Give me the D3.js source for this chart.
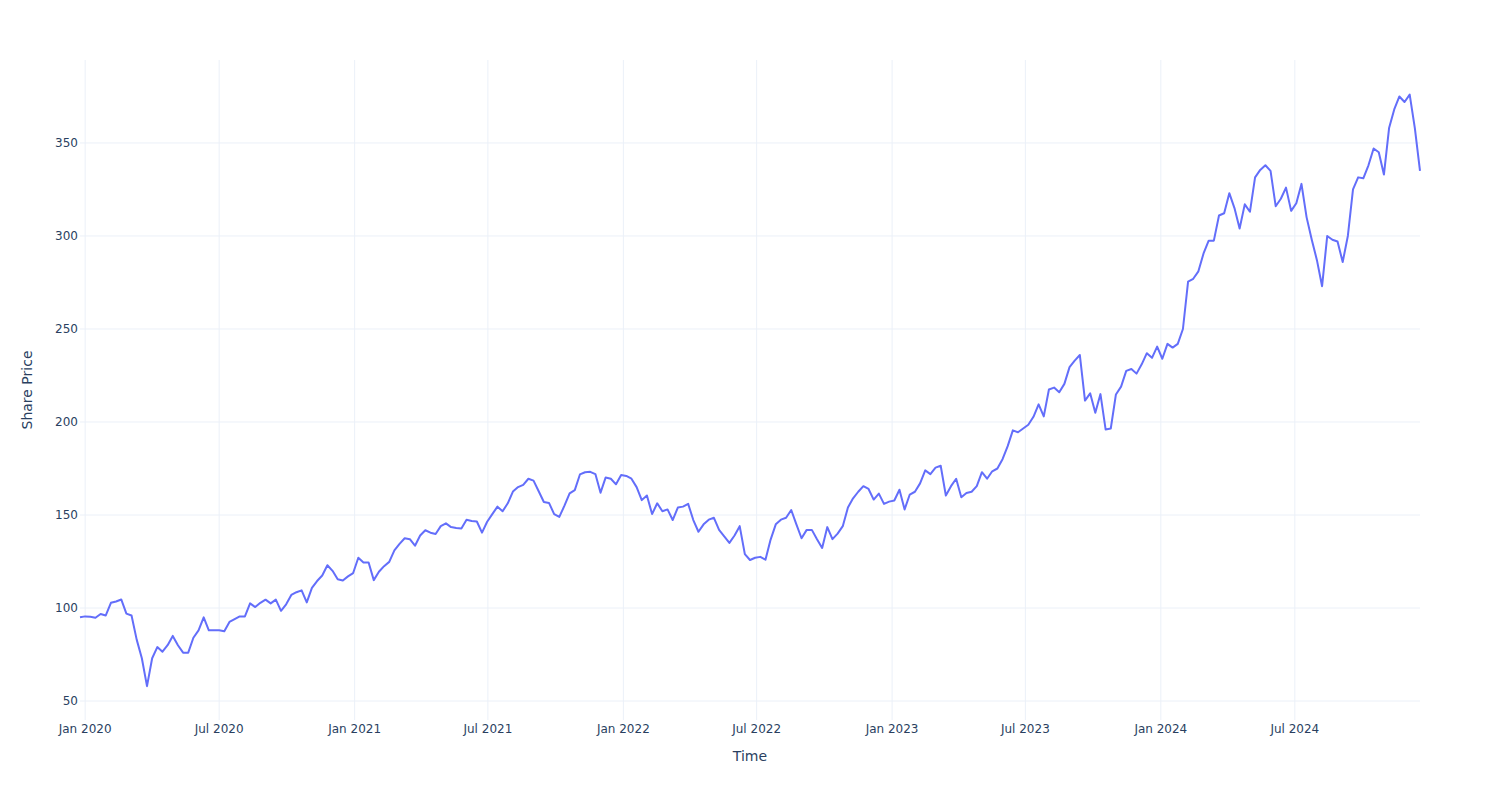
<!DOCTYPE html>
<html>
<head>
<meta charset="utf-8">
<script src="https://cdn.jsdelivr.net/npm/d3@7"></script>
<style>
  html, body { margin: 0; padding: 0; background: #fff; }
  svg { display: block; font-family: "DejaVu Sans", Verdana, sans-serif; }
</style>
</head>
<body>
<svg id="chart" width="1500" height="800"></svg>
<script>
// ---- data (weekly closes) ----
const startDate = "2019-12-25";
const stepDays = 7;
const prices = [
  95.0, 95.5, 95.3, 94.8, 96.8, 96.0, 102.8, 103.5, 104.6, 97,
  96, 83, 73, 58, 73, 79, 76.5, 80, 85, 80,
  76, 76, 84, 88, 95, 88, 88, 88, 87.5, 92.5,
  94, 95.5, 95.5, 102.5, 100.5, 102.8, 104.5, 102.5, 104.5, 98.5,
  102, 107, 108.5, 109.5, 103, 110.8, 114.5, 117.5, 123, 120,
  115.5, 114.8, 117, 118.8, 127, 124.5, 124.5, 115, 119.5, 122.5,
  124.8, 131, 134.5, 137.5, 137, 133.5, 139, 141.8, 140.5, 139.8,
  144, 145.5, 143.5, 143, 142.8, 147.5, 146.8, 146.5, 140.5, 146.4,
  150.5, 154.5, 152, 156.3, 162.6, 165, 166.2, 169.5, 168.5, 162.8,
  157, 156.5, 150.5, 149, 155, 161.6, 163.4, 171.8, 173, 173.2,
  172, 162, 170.2, 169.5, 166.5, 171.5, 171, 169.5, 165, 158,
  160.5, 150.5, 156.3, 152, 153, 147.3, 154, 154.5, 156, 147.3,
  141, 145, 147.5, 148.5, 142, 138.5, 135, 139, 144, 129,
  125.8, 127, 127.5, 126, 136.8, 145, 147.5, 148.5, 152.7, 145,
  137.5, 142, 142, 137, 132.3, 143.5, 137, 140, 144, 154,
  159, 162.5, 165.5, 164, 158.3, 161.5, 156, 157.2, 157.8, 163.6,
  153, 161, 162.5, 167, 174, 172, 175.5, 176.5, 160.5, 165.5,
  169.5, 159.5, 161.8, 162.5, 165.5, 173, 169.5, 173.5, 175, 180,
  187, 195.5, 194.5, 196.5, 198.5, 202.8, 209.5, 203, 217.5, 218.5,
  216, 220.5, 229.5, 233, 236, 211.5, 215.4, 205, 215, 196,
  196.5, 214.8, 219, 227.5, 228.5, 226, 231, 237, 234.5, 240.5,
  234, 242, 240, 242, 250, 275.5, 277, 281, 290.6, 297.5,
  297.5, 311, 312.2, 323, 315, 304, 317, 313, 331.5, 335.5,
  338, 335, 316, 320, 326, 313.5, 317.6, 328, 310, 298,
  287, 273, 300, 298, 297, 286, 300, 325, 331.5, 331,
  338, 347, 345, 333, 358, 368, 375, 372, 376, 358,
  335
];
const yTicks = [50, 100, 150, 200, 250, 300, 350];
const xTickDates = ["2020-01-01", "2020-07-01", "2021-01-01", "2021-07-01", "2022-01-01",
                    "2022-07-01", "2023-01-01", "2023-07-01", "2024-01-01", "2024-07-01"];
const xTickLabels = ["Jan 2020", "Jul 2020", "Jan 2021", "Jul 2021", "Jan 2022",
                     "Jul 2022", "Jan 2023", "Jul 2023", "Jan 2024", "Jul 2024"];
const xTitle = "Time";
const yTitle = "Share Price";

// ---- build ----
const parse = d3.utcParse("%Y-%m-%d");
const start = parse(startDate);
const series = prices.map((v, i) => ({ date: d3.utcDay.offset(start, i * stepDays), value: v }));

const W = 1500, H = 800;
const margin = { l: 80, r: 80, t: 60, b: 80 };
const svg = d3.select("#chart");

const x = d3.scaleUtc()
  .domain(d3.extent(series, d => d.date))
  .range([margin.l, W - margin.r]);
const y = d3.scaleLinear()
  .domain([39.8, 394.6])
  .range([H - margin.b, margin.t]);

const gridColor = "#ebf0f8";
const textColor = "#2a3f5f";

// vertical grid + x labels
const xt = xTickDates.map(parse);
const gx = svg.append("g");
gx.selectAll("line").data(xt).join("line")
  .attr("x1", d => x(d)).attr("x2", d => x(d))
  .attr("y1", margin.t).attr("y2", H - margin.b)
  .attr("stroke", gridColor).attr("stroke-width", 1);
gx.selectAll("text").data(xt).join("text")
  .attr("x", d => x(d))
  .attr("y", H - margin.b + 12.5)
  .attr("text-anchor", "middle")
  .attr("font-size", 12)
  .attr("fill", textColor)
  .text((d, i) => xTickLabels[i]);

// horizontal grid + y labels
const gy = svg.append("g");
gy.selectAll("line").data(yTicks).join("line")
  .attr("x1", margin.l).attr("x2", W - margin.r)
  .attr("y1", d => y(d)).attr("y2", d => y(d))
  .attr("stroke", gridColor).attr("stroke-width", 1);
gy.selectAll("text").data(yTicks).join("text")
  .attr("x", margin.l - 2)
  .attr("y", d => y(d))
  .attr("dy", "0.36em")
  .attr("text-anchor", "end")
  .attr("font-size", 12)
  .attr("fill", textColor)
  .text(d => d);

// line
const line = d3.line()
  .x(d => x(d.date))
  .y(d => y(d.value));
svg.append("path")
  .datum(series)
  .attr("d", line)
  .attr("fill", "none")
  .attr("stroke", "#636efa")
  .attr("stroke-width", 2)
  .attr("stroke-linejoin", "round");

// axis titles
svg.append("text")
  .attr("x", margin.l + (W - margin.l - margin.r) / 2)
  .attr("y", 761)
  .attr("text-anchor", "middle")
  .attr("font-size", 14)
  .attr("fill", textColor)
  .text(xTitle);
svg.append("text")
  .attr("transform", `translate(32,${margin.t + (H - margin.t - margin.b) / 2}) rotate(-90)`)
  .attr("text-anchor", "middle")
  .attr("font-size", 14)
  .attr("fill", textColor)
  .text(yTitle);
</script>
</body>
</html>
